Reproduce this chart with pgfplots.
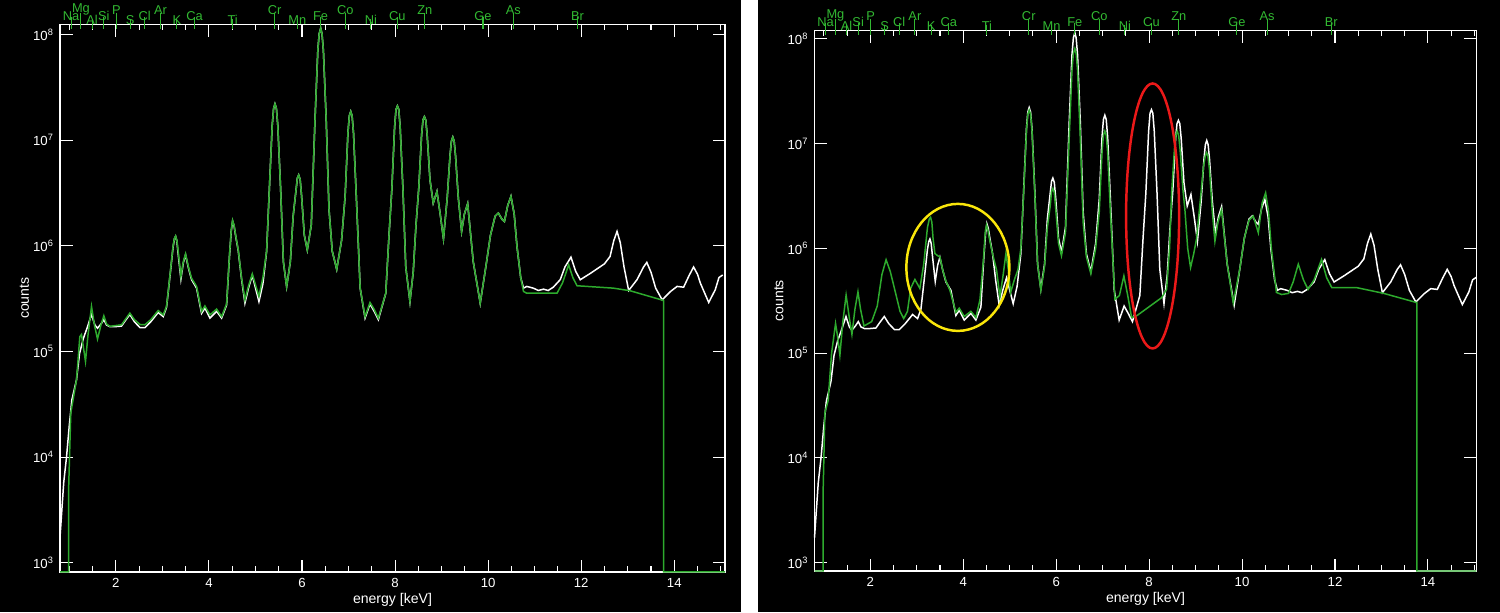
\documentclass[border=0pt]{standalone}
\usepackage{fontspec}
\setmainfont{Liberation Sans}
\usepackage{pgfplots}
\usepackage{pgfplotstable}
\pgfplotsset{compat=1.18}

\definecolor{specgreen}{RGB}{45,170,45}
\definecolor{labgreen}{RGB}{50,185,50}
\definecolor{ringyellow}{RGB}{250,230,10}
\definecolor{ringred}{RGB}{235,25,25}

\newcommand\elemfont{\fontsize{7.3}{8}\selectfont}

% element lines along the top edge, three label heights
\pgfplotstableread{
x yl yr name
1.25 1.247e8 1.202e8 Mg
2.01 1.247e8 1.202e8 P
2.96 1.247e8 1.202e8 Ar
5.41 1.247e8 1.202e8 Cr
6.93 1.247e8 1.202e8 Co
8.64 1.247e8 1.202e8 Zn
10.54 1.247e8 1.202e8 As
}\elemhigh
\pgfplotstableread{
x yl yr name
1.04 1.247e8 1.202e8 Na
1.74 1.247e8 1.202e8 Si
2.62 1.247e8 1.202e8 Cl
3.69 1.247e8 1.202e8 Ca
6.40 1.247e8 1.202e8 Fe
8.05 1.247e8 1.202e8 Cu
9.89 1.247e8 1.202e8 Ge
11.92 1.247e8 1.202e8 Br
}\elemmid
\pgfplotstableread{
x yl yr name
1.49 1.247e8 1.202e8 Al
2.31 1.247e8 1.202e8 S
3.31 1.247e8 1.202e8 K
4.51 1.247e8 1.202e8 Ti
5.90 1.247e8 1.202e8 Mn
7.48 1.247e8 1.202e8 Ni
}\elemlow

% measured spectrum (white), same in both panels
\pgfplotstableread{
x y
0.80 1.74e3
0.88 5.75e3
0.94 1.00e4
1.00 2.00e4
1.054 3.47e4
1.154 5.37e4
1.22 9.55e4
1.30 1.32e5
1.38 1.66e5
1.477 2.24e5
1.55 1.78e5
1.606 1.66e5
1.68 1.82e5
1.742 2.00e5
1.80 1.78e5
1.871 1.72e5
2.00 1.72e5
2.122 1.74e5
2.20 1.95e5
2.301 2.24e5
2.40 1.91e5
2.52 1.68e5
2.624 1.68e5
2.75 1.91e5
2.91 2.34e5
3.018 2.14e5
3.09 2.63e5
3.17 5.50e5
3.23 9.77e5
3.26 1.17e6
3.284 1.23e6
3.31 1.12e6
3.34 8.32e5
3.398 4.84e5
3.45 6.92e5
3.498 8.22e5
3.56 6.17e5
3.627 4.79e5
3.735 3.98e5
3.842 2.29e5
3.914 2.57e5
4.022 2.07e5
4.165 2.40e5
4.273 2.07e5
4.38 2.75e5
4.44 7.76e5
4.48 1.38e6
4.509 1.72e6
4.54 1.55e6
4.58 1.20e6
4.63 9.02e5
4.70 4.90e5
4.774 2.87e5
4.85 3.98e5
4.932 5.25e5
5.075 2.97e5
5.16 4.37e5
5.24 8.91e5
5.30 3.55e6
5.36 1.38e7
5.39 2.00e7
5.419 2.21e7
5.45 2.00e7
5.48 1.38e7
5.54 3.55e6
5.60 7.08e5
5.67 4.11e5
5.75 7.08e5
5.81 1.91e6
5.87 3.31e6
5.90 4.37e6
5.929 4.69e6
5.96 4.27e6
5.99 3.02e6
6.05 1.26e6
6.114 9.14e5
6.20 1.58e6
6.28 1.58e7
6.34 7.08e7
6.37 1.02e8
6.402 1.15e8
6.43 1.02e8
6.46 7.08e7
6.52 1.58e7
6.58 2.24e6
6.65 8.91e5
6.746 6.00e5
6.85 1.12e6
6.927 2.95e6
6.987 1.17e7
7.017 1.70e7
7.047 1.87e7
7.077 1.70e7
7.107 1.17e7
7.167 2.95e6
7.25 3.98e5
7.355 2.07e5
7.462 2.82e5
7.55 2.40e5
7.641 2.00e5
7.80 3.55e5
7.87 1.26e6
7.93 3.39e6
7.99 1.33e7
8.02 1.95e7
8.05 2.11e7
8.08 1.95e7
8.11 1.33e7
8.17 3.39e6
8.23 6.31e5
8.32 2.97e5
8.39 5.62e5
8.45 1.58e6
8.51 3.55e6
8.57 1.12e7
8.60 1.55e7
8.63 1.67e7
8.66 1.55e7
8.69 1.12e7
8.75 4.23e6
8.82 2.54e6
8.90 3.27e6
8.97 2.00e6
9.04 1.17e6
9.12 2.82e6
9.18 7.08e6
9.21 9.77e6
9.24 1.07e7
9.27 9.77e6
9.30 7.08e6
9.36 2.82e6
9.43 1.37e6
9.49 2.00e6
9.56 2.51e6
9.68 7.08e5
9.83 2.87e5
9.95 6.31e5
10.05 1.26e6
10.15 1.91e6
10.22 2.04e6
10.30 1.78e6
10.35 1.70e6
10.42 2.40e6
10.49 2.94e6
10.56 2.00e6
10.62 9.86e5
10.70 5.01e5
10.76 3.98e5
10.83 4.13e5
10.97 3.98e5
11.08 3.78e5
11.19 3.89e5
11.29 3.78e5
11.40 4.06e5
11.55 4.79e5
11.65 6.31e5
11.78 7.82e5
11.88 5.75e5
11.98 4.78e5
12.20 5.50e5
12.50 6.76e5
12.62 7.94e5
12.70 1.12e6
12.77 1.37e6
12.84 1.07e6
12.92 6.31e5
13.02 3.78e5
13.20 4.79e5
13.34 6.31e5
13.41 6.97e5
13.50 5.62e5
13.60 3.98e5
13.74 3.08e5
13.92 3.70e5
14.06 4.13e5
14.20 4.06e5
14.32 5.25e5
14.415 6.31e5
14.50 5.37e5
14.56 4.44e5
14.74 2.91e5
14.88 3.84e5
14.96 5.01e5
15.04 5.30e5
}\whitedata

% fit, left panel
\pgfplotstableread{
x y
0.80 817
0.983 817
0.983 4.57e3
1.011 1.26e4
1.032 2.63e4
1.08 3.47e4
1.154 5.37e4
1.226 1.38e5
1.262 1.45e5
1.30 1.12e5
1.348 8.04e4
1.40 1.41e5
1.477 2.67e5
1.54 1.78e5
1.606 1.31e5
1.68 1.78e5
1.742 2.18e5
1.80 1.82e5
1.871 1.73e5
2.00 1.76e5
2.122 1.79e5
2.20 2.00e5
2.301 2.31e5
2.40 2.00e5
2.52 1.80e5
2.624 1.79e5
2.75 2.00e5
2.91 2.44e5
3.018 2.22e5
3.09 2.69e5
3.17 5.62e5
3.23 1.00e6
3.26 1.18e6
3.284 1.24e6
3.31 1.13e6
3.34 8.91e5
3.398 5.13e5
3.45 7.08e5
3.498 8.41e5
3.56 6.31e5
3.627 4.94e5
3.735 4.13e5
3.842 2.39e5
3.914 2.70e5
4.022 2.22e5
4.165 2.52e5
4.273 2.14e5
4.38 2.82e5
4.44 7.94e5
4.48 1.41e6
4.509 1.74e6
4.54 1.57e6
4.58 1.22e6
4.63 9.18e5
4.70 5.01e5
4.774 3.08e5
4.85 4.17e5
4.932 5.43e5
5.075 3.32e5
5.16 5.01e5
5.24 8.91e5
5.30 3.55e6
5.36 1.38e7
5.39 2.00e7
5.419 2.21e7
5.45 2.00e7
5.48 1.38e7
5.54 3.55e6
5.60 7.08e5
5.67 4.11e5
5.75 7.08e5
5.81 1.91e6
5.87 3.31e6
5.90 4.37e6
5.929 4.69e6
5.96 4.27e6
5.99 3.02e6
6.05 1.26e6
6.114 9.14e5
6.20 1.58e6
6.28 1.58e7
6.34 7.08e7
6.37 1.02e8
6.402 1.15e8
6.43 1.02e8
6.46 7.08e7
6.52 1.58e7
6.58 2.24e6
6.65 8.91e5
6.746 6.00e5
6.85 1.12e6
6.927 2.95e6
6.987 1.17e7
7.017 1.70e7
7.047 1.87e7
7.077 1.70e7
7.107 1.17e7
7.167 2.95e6
7.25 3.98e5
7.355 2.14e5
7.462 2.91e5
7.55 2.51e5
7.641 2.07e5
7.80 3.55e5
7.87 1.26e6
7.93 3.39e6
7.99 1.33e7
8.02 1.95e7
8.05 2.11e7
8.08 1.95e7
8.11 1.33e7
8.17 3.39e6
8.23 6.31e5
8.32 2.97e5
8.39 5.62e5
8.45 1.58e6
8.51 3.55e6
8.57 1.12e7
8.60 1.55e7
8.63 1.67e7
8.66 1.55e7
8.69 1.12e7
8.75 4.23e6
8.82 2.54e6
8.90 3.27e6
8.97 2.00e6
9.04 1.17e6
9.12 2.82e6
9.18 7.08e6
9.21 9.77e6
9.24 1.07e7
9.27 9.77e6
9.30 7.08e6
9.36 2.82e6
9.43 1.37e6
9.49 2.00e6
9.56 2.51e6
9.68 7.08e5
9.83 2.87e5
9.95 6.31e5
10.05 1.26e6
10.15 1.91e6
10.22 2.04e6
10.30 1.78e6
10.35 1.70e6
10.42 2.40e6
10.49 2.94e6
10.56 2.00e6
10.62 9.86e5
10.70 5.01e5
10.76 3.70e5
10.83 3.56e5
11.48 3.56e5
11.60 4.47e5
11.73 6.62e5
11.82 5.01e5
11.91 4.19e5
12.69 3.98e5
13.05 3.76e5
13.40 3.39e5
13.77 3.04e5
13.77 817
15.09 817
}\greenleft

% fit, right panel
\pgfplotstableread{
x y
0.80 834
0.986 834
0.986 4.90e3
1.023 2.69e4
1.094 3.55e4
1.167 9.95e4
1.253 1.92e5
1.30 1.41e5
1.346 9.55e4
1.41 2.00e5
1.48 3.58e5
1.545 2.24e5
1.605 1.51e5
1.67 2.63e5
1.735 3.85e5
1.79 2.63e5
1.865 1.82e5
2.03 2.00e5
2.15 2.82e5
2.25 5.62e5
2.34 7.80e5
2.43 6.03e5
2.53 3.98e5
2.64 2.51e5
2.72 2.14e5
2.80 2.51e5
2.87 4.17e5
2.96 5.06e5
3.067 4.15e5
3.15 7.08e5
3.23 1.58e6
3.27 1.91e6
3.297 1.98e6
3.325 1.78e6
3.35 1.26e6
3.39 8.95e5
3.45 8.51e5
3.498 8.32e5
3.56 6.17e5
3.627 4.90e5
3.713 4.00e5
3.842 2.45e5
3.914 2.69e5
4.022 2.24e5
4.165 2.51e5
4.273 2.19e5
4.36 3.24e5
4.44 8.32e5
4.475 1.45e6
4.502 1.67e6
4.53 1.50e6
4.56 1.26e6
4.63 8.91e5
4.718 6.21e5
4.789 3.45e5
4.86 5.62e5
4.918 8.91e5
4.97 6.31e5
5.02 3.80e5
5.10 5.01e5
5.18 6.31e5
5.24 1.00e6
5.30 3.39e6
5.36 1.32e7
5.39 1.91e7
5.419 2.09e7
5.45 1.91e7
5.48 1.32e7
5.54 3.39e6
5.60 7.08e5
5.67 3.98e5
5.75 6.76e5
5.81 1.58e6
5.87 2.51e6
5.90 3.47e6
5.929 3.74e6
5.96 3.39e6
5.99 2.40e6
6.05 1.12e6
6.114 8.51e5
6.20 1.41e6
6.28 1.12e7
6.34 5.01e7
6.37 7.24e7
6.402 8.09e7
6.43 7.24e7
6.46 5.01e7
6.52 1.12e7
6.58 1.78e6
6.65 8.32e5
6.746 5.75e5
6.85 1.00e6
6.927 2.24e6
6.987 8.32e6
7.017 1.20e7
7.047 1.32e7
7.077 1.20e7
7.107 8.32e6
7.167 2.24e6
7.264 3.27e5
7.36 3.55e5
7.457 5.46e5
7.54 3.55e5
7.623 2.19e5
7.73 2.27e5
8.27 3.39e5
8.376 4.07e5
8.44 1.00e6
8.484 3.39e6
8.545 8.91e6
8.575 1.20e7
8.605 1.32e7
8.635 1.20e7
8.665 8.91e6
8.73 3.55e6
8.77 2.34e6
8.83 1.00e6
8.892 6.56e5
8.96 8.91e5
9.02 1.23e6
9.10 2.82e6
9.17 6.03e6
9.207 7.59e6
9.237 8.20e6
9.267 7.59e6
9.30 5.62e6
9.36 2.24e6
9.416 1.17e6
9.48 1.78e6
9.56 2.34e6
9.68 7.08e5
9.81 3.02e5
9.95 6.31e5
10.05 1.26e6
10.15 1.86e6
10.24 2.04e6
10.35 1.41e6
10.43 2.69e6
10.507 3.39e6
10.57 2.24e6
10.63 1.00e6
10.74 3.80e5
10.85 3.63e5
11.00 3.72e5
11.10 4.79e5
11.21 7.08e5
11.32 5.01e5
11.42 4.07e5
11.55 5.01e5
11.71 7.85e5
11.82 5.25e5
11.93 4.23e5
12.46 4.23e5
13.04 3.73e5
13.76 3.04e5
13.76 834
15.04 834
}\greenright

\begin{document}
\begin{tikzpicture}
\useasboundingbox (0,0) rectangle (30cm,12.24cm);
\fill[black] (0,0) rectangle (30cm,12.24cm);
\fill[white] (14.82cm,0) rectangle (15.16cm,12.24cm);

\begin{axis}[anchor=south west, at={(1.2cm,0.8cm)}, width=13.3cm, height=10.95cm,
  scale only axis, ymode=log,
  xmin=0.8, xmax=15.09, ymin=817, ymax=1.247e8,
  clip=false,
  axis line style={white, line width=0.7pt},
  tick style={white, line width=0.6pt},
  major tick length=0.25cm, minor tick length=0.12cm,
  xtick={2,4,...,14}, xticklabels={2,4,6,8,10,12,14},
  minor xtick={1,1.5,...,15},
  ytick={1e3,1e4,1e5,1e6,1e7,1e8},
  yticklabels={10\textsuperscript{3},10\textsuperscript{4},10\textsuperscript{5},10\textsuperscript{6},10\textsuperscript{7},10\textsuperscript{8}},
  yminorticks=false,
  tick label style={white, font=\fontsize{7.5}{9}\selectfont},
  xlabel={energy [keV]}, ylabel={counts},
  label style={white, font=\fontsize{8}{9}\selectfont},
  xlabel shift=-0.12cm, ylabel shift=-0.16cm]
\addplot[draw=white, line width=0.85pt] table {\whitedata};
\addplot[draw=specgreen, line width=0.85pt] table {\greenleft};
\addplot[only marks, mark=|, mark size=0.165cm, labgreen,
  mark options={line width=0.6pt, yshift=0.065cm},
  nodes near coords, point meta=explicit symbolic,
  nodes near coords style={font=\elemfont, text=labgreen, anchor=center, inner sep=0pt, yshift=0.23cm}]
  table[x=x, y=yl, meta=name] {\elemhigh};
\addplot[only marks, mark=|, mark size=0.125cm, labgreen,
  mark options={line width=0.6pt, yshift=0.025cm},
  nodes near coords, point meta=explicit symbolic,
  nodes near coords style={font=\elemfont, text=labgreen, anchor=center, inner sep=0pt, yshift=0.15cm}]
  table[x=x, y=yl, meta=name] {\elemmid};
\addplot[only marks, mark=|, mark size=0.1cm, labgreen,
  mark options={line width=0.6pt},
  nodes near coords, point meta=explicit symbolic,
  nodes near coords style={font=\elemfont, text=labgreen, anchor=center, inner sep=0pt, yshift=0.09cm}]
  table[x=x, y=yl, meta=name] {\elemlow};
\end{axis}

\begin{axis}[anchor=south west, at={(16.29cm,0.82cm)}, width=13.24cm, height=10.81cm,
  scale only axis, ymode=log,
  xmin=0.8, xmax=15.045, ymin=834, ymax=1.202e8,
  clip=false,
  axis line style={white, line width=0.7pt},
  tick style={white, line width=0.6pt},
  major tick length=0.25cm, minor tick length=0.12cm,
  xtick={2,4,...,14}, xticklabels={2,4,6,8,10,12,14},
  minor xtick={1,1.5,...,15},
  ytick={1e3,1e4,1e5,1e6,1e7,1e8},
  yticklabels={10\textsuperscript{3},10\textsuperscript{4},10\textsuperscript{5},10\textsuperscript{6},10\textsuperscript{7},10\textsuperscript{8}},
  yminorticks=false,
  tick label style={white, font=\fontsize{7.5}{9}\selectfont},
  xlabel={energy [keV]}, ylabel={counts},
  label style={white, font=\fontsize{8}{9}\selectfont},
  xlabel shift=-0.12cm, ylabel shift=-0.16cm]
\addplot[draw=white, line width=0.85pt] table {\whitedata};
\addplot[draw=specgreen, line width=0.85pt] table {\greenright};
\addplot[only marks, mark=|, mark size=0.165cm, labgreen,
  mark options={line width=0.6pt, yshift=0.065cm},
  nodes near coords, point meta=explicit symbolic,
  nodes near coords style={font=\elemfont, text=labgreen, anchor=center, inner sep=0pt, yshift=0.23cm}]
  table[x=x, y=yr, meta=name] {\elemhigh};
\addplot[only marks, mark=|, mark size=0.125cm, labgreen,
  mark options={line width=0.6pt, yshift=0.025cm},
  nodes near coords, point meta=explicit symbolic,
  nodes near coords style={font=\elemfont, text=labgreen, anchor=center, inner sep=0pt, yshift=0.15cm}]
  table[x=x, y=yr, meta=name] {\elemmid};
\addplot[only marks, mark=|, mark size=0.1cm, labgreen,
  mark options={line width=0.6pt},
  nodes near coords, point meta=explicit symbolic,
  nodes near coords style={font=\elemfont, text=labgreen, anchor=center, inner sep=0pt, yshift=0.09cm}]
  table[x=x, y=yr, meta=name] {\elemlow};
\draw[ringyellow, line width=1.4pt] (axis cs:3.885,6.59e5) ellipse [x radius=1.03cm, y radius=1.27cm];
\draw[ringred, line width=1.4pt] (axis cs:8.075,2.04e6) ellipse [x radius=0.53cm, y radius=2.65cm];
\end{axis}
\end{tikzpicture}
\end{document}
